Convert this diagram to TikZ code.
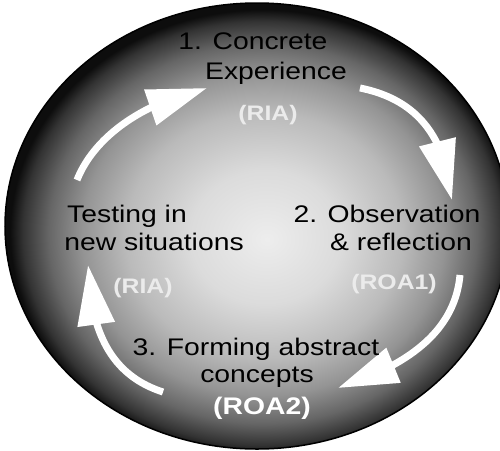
\documentclass[tikz,border=0pt]{standalone}
\usepackage{fontspec}
\setmainfont{Liberation Sans}
\usetikzlibrary{arrows.meta,bending}
\definecolor{g0}{gray}{0.93}
\definecolor{g1}{gray}{0.86}
\definecolor{g2}{gray}{0.73}
\definecolor{g3}{gray}{0.58}
\definecolor{g4}{gray}{0.40}
\definecolor{g5}{gray}{0.20}
\definecolor{g6}{gray}{0.05}
\definecolor{tagcol}{gray}{0.92}
\pgfdeclareradialshading{discshade}{\pgfpoint{1bp}{-1.5bp}}{color(0bp)=(g0); color(7.5bp)=(g1); color(13.75bp)=(g2); color(18bp)=(g3); color(21.25bp)=(g4); color(23.75bp)=(g5); color(25bp)=(g6); color(50bp)=(g6)}
\begin{document}
\begin{tikzpicture}[x=1pt,y=-1pt,
  lbl/.style={font=\fontsize{24}{28}\selectfont, anchor=base, inner sep=0pt, xscale=1.18, text=black},
  tag/.style={font=\bfseries\fontsize{21}{24}\selectfont, anchor=base, inner sep=0pt, xscale=1.18, text=tagcol},
  bigtag/.style={font=\bfseries\fontsize{24}{28}\selectfont, anchor=base, inner sep=0pt, xscale=1.18, text=white},
  cyclearrow/.style={draw=white, line width=7pt, -{Triangle[length=60pt,width=36pt,flex]}}]
\useasboundingbox (0,0) rectangle (500,450);
\fill[white] (0,0) rectangle (500,450);
\path[shading=discshade] (257,226) ellipse [x radius=252pt, y radius=223pt];
\draw[black, line width=1.5pt] (257,226) ellipse [x radius=252pt, y radius=223pt];

% arrows
\coordinate (a1s) at (77,180);  \coordinate (a1e) at (207,88);
\coordinate (a2s) at (360,88);  \coordinate (a2e) at (452,200);
\coordinate (a3s) at (460,275); \coordinate (a3e) at (338,388);
\coordinate (a4s) at (163,392); \coordinate (a4e) at (88,265);
\draw[cyclearrow] (a1s) .. controls (95,135) and (145,102) .. (a1e);
\draw[cyclearrow] (a2s) .. controls (420,100) and (446,140) .. (a2e);
\draw[cyclearrow] (a3s) .. controls (455,330) and (410,365) .. (a3e);
\draw[cyclearrow] (a4s) .. controls (110,375) and (90,330) .. (a4e);

% texts
\node[lbl] (t1a) at (253,49) {1. Concrete};
\node[lbl] (t1b) at (276,79) {Experience};
\node[tag] (r1) at (268,120) {(RIA)};
\node[lbl] (t2a) at (387,222) {2. Observation};
\node[lbl] (t2b) at (401,250) {\& reflection};
\node[tag] (r2) at (394,289) {(ROA1)};
\node[lbl] (t3a) at (256,355) {3. Forming abstract};
\node[lbl] (t3b) at (257,382) {concepts};
\node[bigtag] (r3) at (262,414) {(ROA2)};
\node[lbl] (t4a) at (127,222) {Testing in};
\node[lbl] (t4b) at (154,250) {new situations};
\node[tag] (r4) at (143,293) {(RIA)};
\end{tikzpicture}
\end{document}
